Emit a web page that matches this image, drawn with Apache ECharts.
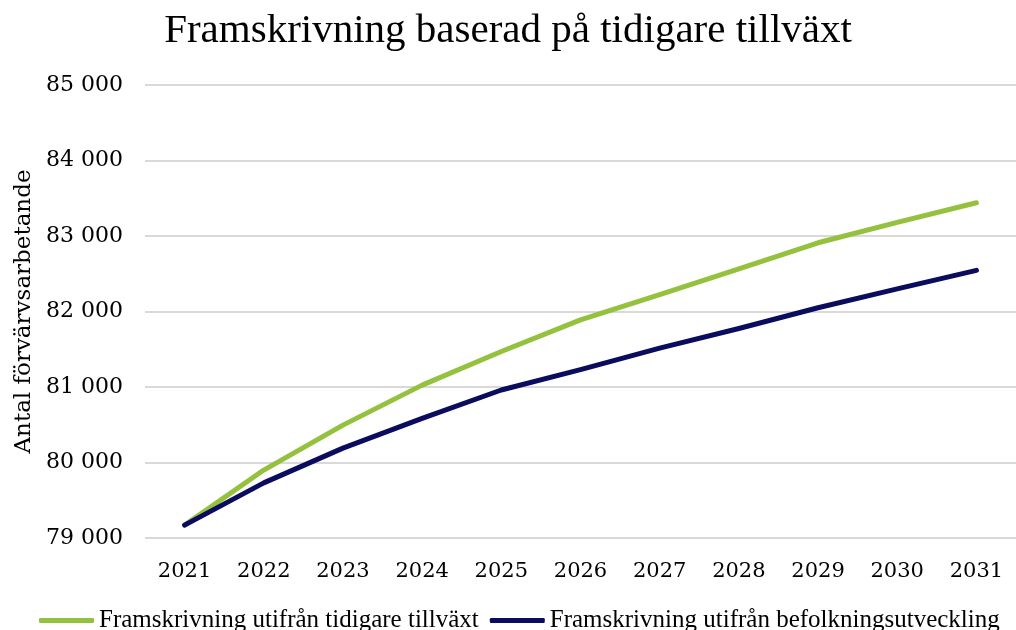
<!DOCTYPE html>
<html>
<head>
<meta charset="utf-8">
<script src="https://cdn.jsdelivr.net/npm/echarts@6/dist/echarts.min.js"></script>
<style>
  html, body { margin: 0; padding: 0; background: #fff; }
  #chart { width: 1016px; height: 630px; }
</style>
</head>
<body>
<div id="chart"></div>
<script>
// år på x-axeln
const years = ["2021", "2022", "2023", "2024", "2025", "2026", "2027", "2028", "2029", "2030", "2031"];

// framskrivning utifrån tidigare tillväxt
const tidigareTillvaxt = [79170, 79900, 80495, 81025, 81470, 81890, 82225, 82565, 82910, 83180, 83440];

// framskrivning utifrån befolkningsutveckling
const befolkning = [79170, 79730, 80190, 80585, 80960, 81230, 81515, 81775, 82050, 82300, 82545];

const yTicks = { min: 79000, max: 85000, step: 1000 };

const chart = echarts.init(document.getElementById("chart"));

const fmt = v => String(v).replace(/\B(?=(\d{3})+(?!\d))/g, " ");

chart.setOption({
    animation: false,
    title: {
        text: "Framskrivning baserad på tidigare tillväxt",
        left: "center",
        top: 6,
        textStyle: { fontFamily: "Liberation Serif", fontSize: 41, fontWeight: "normal", color: "#000" }
    },
    grid: { left: 145, top: 85, width: 878, height: 453 },
    legend: {
        top: 603,
        left: 34,
        itemWidth: 55,
        itemHeight: 5,
        itemGap: 11,
        icon: "roundRect",
        textStyle: { fontFamily: "Liberation Serif", fontSize: 25, color: "#000" },
        data: ["Framskrivning utifrån tidigare tillväxt", "Framskrivning utifrån befolkningsutveckling"]
    },
    xAxis: {
        type: "category",
        data: years,
        boundaryGap: true,
        axisLine: { show: false },
        axisTick: { show: false },
        axisLabel: { fontFamily: "DejaVu Serif", fontSize: 21, color: "#000", margin: 23 }
    },
    yAxis: {
        type: "value",
        min: yTicks.min,
        max: yTicks.max,
        interval: yTicks.step,
        name: "Antal förvärvsarbetande",
        nameLocation: "middle",
        nameGap: 108,
        nameTextStyle: { fontFamily: "DejaVu Serif", fontSize: 23, color: "#000" },
        axisLine: { show: false },
        axisTick: { show: false },
        axisLabel: { fontFamily: "DejaVu Serif", fontSize: 22, color: "#000", margin: 22, formatter: fmt },
        splitLine: { lineStyle: { color: "#d9d9d9", width: 2 } }
    },
    series: [
        {
            name: "Framskrivning utifrån tidigare tillväxt",
            type: "line",
            data: tidigareTillvaxt,
            symbol: "none",
            lineStyle: { color: "#94c13e", width: 5, cap: "round", join: "round" },
            itemStyle: { color: "#94c13e" }
        },
        {
            name: "Framskrivning utifrån befolkningsutveckling",
            type: "line",
            data: befolkning,
            symbol: "none",
            lineStyle: { color: "#0b0c5e", width: 5, cap: "round", join: "round" },
            itemStyle: { color: "#0b0c5e" }
        }
    ]
});
</script>
</body>
</html>
